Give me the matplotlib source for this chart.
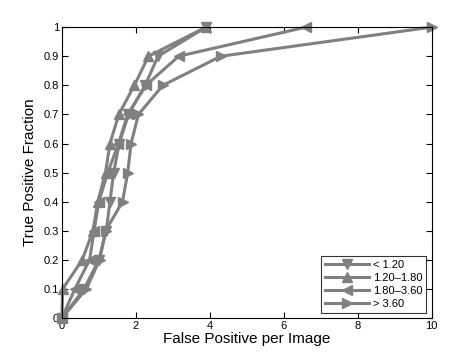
import numpy as np
from matplotlib import pyplot as plt

# ROC-style curves, one per size bin
tpf = [0.0, 0.1, 0.2, 0.3, 0.4, 0.5, 0.6, 0.7, 0.8, 0.9, 1.0]
fp_lt120 = [0.0, 0.60, 1.00, 1.20, 1.30, 1.40, 1.55, 1.80, 2.25, 2.60, 3.90]
fp_120_180 = [0.0, 0.02, 0.55, 0.84, 0.97, 1.18, 1.30, 1.54, 1.96, 2.34, 3.90]
fp_180_360 = [0.0, 0.35, 0.75, 0.87, 1.00, 1.24, 1.53, 1.78, 2.27, 3.16, 6.60]
fp_gt360 = [0.0, 0.66, 1.02, 1.18, 1.64, 1.78, 1.87, 2.07, 2.73, 4.30, 10.0]

series = [
    (fp_lt120, 'v', '< 1.20'),
    (fp_120_180, '^', '1.20\u20131.80'),
    (fp_180_360, '<', '1.80\u20133.60'),
    (fp_gt360, '>', '> 3.60'),
]

plt.rcParams['font.family'] = ['Liberation Sans', 'DejaVu Sans']

fig = plt.figure(figsize=(4.76, 3.57), dpi=100)
ax = fig.add_axes([0.130, 0.109, 0.777, 0.815])

gray = '#808080'
for fp, mk, lab in series:
    ax.plot(fp, tpf, color=gray, linewidth=2.2, marker=mk, markersize=7.5,
            markerfacecolor=gray, markeredgecolor=gray, label=lab,
            clip_on=False)

ax.set_xlim(0, 10)
ax.set_ylim(0, 1)
ax.set_xticks(np.arange(0, 11, 2))
ax.set_yticks(np.arange(0, 1.01, 0.1))
ax.set_yticklabels(['0', '0.1', '0.2', '0.3', '0.4', '0.5', '0.6', '0.7', '0.8', '0.9', '1'])
ax.tick_params(direction='in', top=True, right=True, labelsize=8, length=4, pad=2)
ax.set_xlabel('False Positive per Image', fontsize=11, labelpad=1)
ax.set_ylabel('True Positive Fraction', fontsize=11, labelpad=5)
for s in ax.spines.values():
    s.set_linewidth(0.8)

leg = ax.legend(loc='lower right', fontsize=8, handlelength=4, frameon=True,
                fancybox=False, borderpad=0.35, labelspacing=0.25,
                handletextpad=0.3, borderaxespad=0.5)
leg.get_frame().set_edgecolor('black')
leg.get_frame().set_linewidth(0.8)

fig.savefig('out.png', dpi=100)
